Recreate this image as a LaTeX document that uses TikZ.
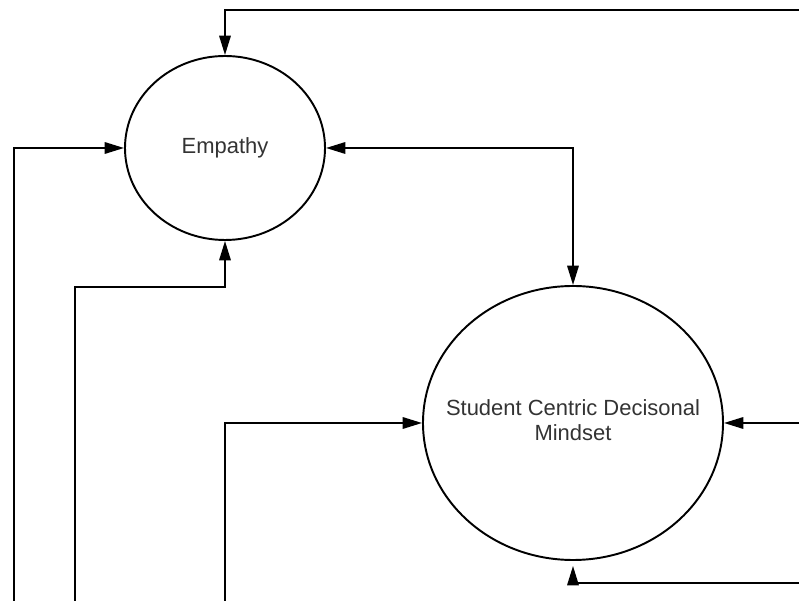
\documentclass[tikz,border=0pt]{standalone}
\usepackage{fontspec}
\setmainfont{Liberation Sans}
\usetikzlibrary{shapes.geometric,arrows.meta}

\begin{document}
\begin{tikzpicture}[
    >={Triangle[length=11pt,width=6.5pt]},
    every path/.style={line width=1.1pt},
    bubble/.style={draw, ellipse, inner sep=0pt},
    bubbletext/.style={align=center, text=black!80, font=\fontsize{12.5}{14.2}\selectfont}
  ]
            \useasboundingbox (0,0) rectangle (15.98,-12.02);
            \node[bubble, minimum width=4cm, minimum height=3.68cm] (emp) at (4.5,-2.96) {};
            \node[bubbletext] (empText) at (emp) {Empathy};
            \node[bubble, minimum width=6cm, minimum height=5.48cm] (mind) at (11.46,-8.46) {};
            \node[bubbletext] (mindText) at (11.46,-8.4) {Student Centric Decisonal\\Mindset};
            \coordinate (topR) at (15.98,-0.2);
            \coordinate (leftA) at (0.28,-12.02);
            \coordinate (leftB) at (1.5,-12.02);
            \coordinate (bendB) at (4.5,-5.74);
            \coordinate (leftC) at (4.5,-12.02);
            \coordinate (rightM) at (15.98,-8.46);
            \coordinate (botR) at (15.98,-11.66);
            \draw[->] (topR) -| (emp.north);
            \draw[<->] (emp.east) -| (mind.north);
            \draw[->] (leftA) |- (emp.west);
            \draw[->] (leftB) |- (bendB) -- (emp.south);
            \draw[->] (leftC) |- (mind.west);
            \draw[->] (rightM) -- (mind.east);
            \draw[->, shorten >=0.1cm] (botR) -| (mind.south);
    \end{tikzpicture}
\end{document}
